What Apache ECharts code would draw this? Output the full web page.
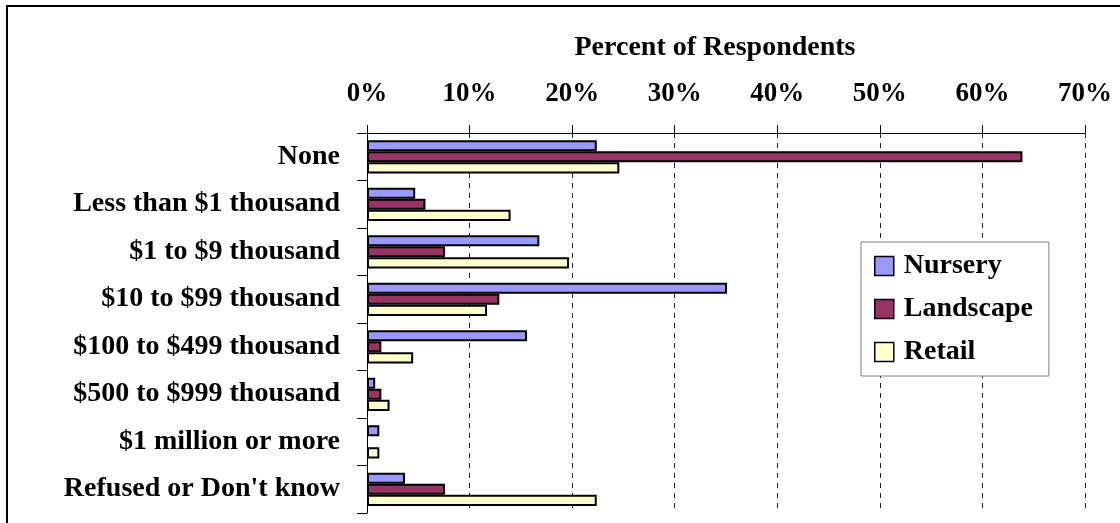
<!DOCTYPE html>
<html>
<head>
<meta charset="utf-8">
<script src="https://cdn.jsdelivr.net/npm/echarts@6/dist/echarts.min.js"></script>
<style>
  html, body { margin: 0; padding: 0; background: #fff; }
  #chart { width: 1120px; height: 523px; }
</style>
</head>
<body>
<div id="chart"></div>
<script>
// categories, top to bottom
const categories = [
  'None',
  'Less than $1 thousand',
  '$1 to $9 thousand',
  '$10 to $99 thousand',
  '$100 to $499 thousand',
  '$500 to $999 thousand',
  '$1 million or more',
  "Refused or Don't know"
]
// percent of respondents
const nursery = [22.4, 4.7, 16.8, 35.1, 15.6, 0.8, 1.2, 3.7]
const landscape = [63.9, 5.7, 7.6, 12.9, 1.4, 1.4, 0, 7.6]
const retail = [24.6, 14.0, 19.7, 11.7, 4.5, 2.2, 1.2, 22.4]
const xTicks = [0, 10, 20, 30, 40, 50, 60, 70]

const FONT = '"Liberation Serif", "DejaVu Serif", serif'
const seriesDefs = [
  { name: 'Nursery', values: nursery, color: '#9999FF' },
  { name: 'Landscape', values: landscape, color: '#993366' },
  { name: 'Retail', values: retail, color: '#FFFFCC' }
]

const chart = echarts.init(document.getElementById('chart'))

const option = {
  animation: false,
  backgroundColor: '#fff',
  grid: {
    left: 367,
    right: 35,
    top: 133,
    bottom: 10,
    containLabel: false,
    outerBoundsMode: 'none'
  },
  legend: {
    orient: 'vertical',
    left: 861,
    top: 242,
    padding: [10, 16, 10, 13],
    itemGap: 15,
    itemWidth: 19,
    itemHeight: 19,
    icon: 'rect',
    backgroundColor: '#fff',
    borderColor: '#808080',
    borderWidth: 1,
    itemStyle: { borderColor: '#000', borderWidth: 1.5 },
    textStyle: { fontFamily: FONT, fontWeight: 'bold', fontSize: 28, color: '#000', padding: [0, 0, 0, 5] },
    data: seriesDefs.map(s => s.name)
  },
  xAxis: {
    type: 'value',
    position: 'top',
    min: xTicks[0],
    max: xTicks[xTicks.length - 1],
    interval: 10,
    name: 'Percent of Respondents',
    nameLocation: 'middle',
    nameGap: 85,
    nameMoveOverlap: false,
    nameTextStyle: {
      fontFamily: FONT,
      fontWeight: 'bold',
      fontSize: 28,
      color: '#000',
      verticalAlign: 'middle',
      padding: [0, 22, 0, 0]
    },
    axisLine: { show: true, lineStyle: { color: '#000', width: 1 } },
    axisTick: { show: true, length: 8, lineStyle: { color: '#000' } },
    axisLabel: {
      formatter: '{value}%',
      margin: 25,
      fontFamily: FONT,
      fontWeight: 'bold',
      fontSize: 27,
      color: '#000'
    },
    splitLine: { show: true, lineStyle: { color: '#222', width: 1, type: [5, 5] } }
  },
  yAxis: {
    type: 'category',
    inverse: true,
    data: categories,
    axisLine: { show: true, lineStyle: { color: '#000', width: 1 } },
    axisTick: { show: true, length: 10, lineStyle: { color: '#000' } },
    axisLabel: {
      margin: 27,
      fontFamily: FONT,
      fontWeight: 'bold',
      fontSize: 28,
      color: '#000'
    },
    splitLine: { show: false }
  },
  series: seriesDefs.map(s => ({
    type: 'bar',
    name: s.name,
    // a zero bar draws nothing in the reference
    data: s.values.map(v => (v === 0 ? null : v)),
    barGap: '0%',
    barCategoryGap: '30%',
    itemStyle: { color: s.color, borderColor: '#000', borderWidth: 2 }
  })),
  graphic: [
    {
      type: 'polyline',
      silent: true,
      shape: { points: [[7, 523], [7, 6], [1120, 6]] },
      style: { stroke: '#000', lineWidth: 2, fill: null }
    }
  ]
}

chart.setOption(option)
</script>
</body>
</html>
